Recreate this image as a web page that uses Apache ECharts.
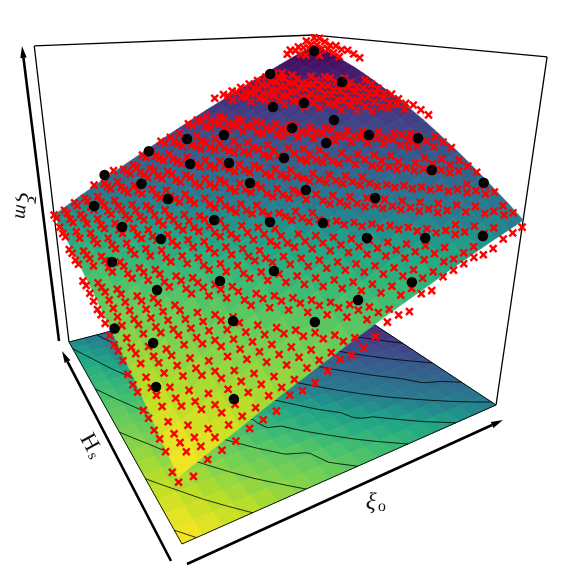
<!DOCTYPE html>
<html><head><meta charset="utf-8">
<script src="https://cdn.jsdelivr.net/npm/echarts@6/dist/echarts.min.js"></script>
<style>html,body{margin:0;background:#fff}#c{width:581px;height:581px}</style></head>
<body><div id="c"></div>
<script>
// fitted surface height (x 1000), rows along Hs (0..1 in 0.05 steps), columns along xi_o
const surfaceZ = [
[184,207,230,252,275,297,318,339,359,380,400,420,439,457,476,495,512,530,547,563,580],
[202,225,249,272,295,317,339,361,382,403,424,444,463,483,502,521,539,557,575,592,609],
[220,244,268,291,315,338,360,382,388,425,446,467,487,506,526,545,564,583,601,618,636],
[237,261,286,310,334,357,380,402,424,447,468,489,522,530,550,570,589,608,627,645,663],
[254,279,304,328,353,376,400,422,445,468,490,511,532,553,574,594,614,633,662,670,689],
[271,296,321,346,371,395,419,458,465,488,511,533,554,575,596,617,637,657,676,695,714],
[287,313,339,364,389,413,437,461,484,507,530,553,574,596,617,638,659,679,699,718,737],
[302,328,354,380,405,430,454,478,502,526,549,572,594,616,638,659,680,700,721,740,760],
[318,344,371,397,423,448,472,496,521,545,568,591,613,636,658,680,701,721,742,762,782],
[333,360,386,412,438,464,489,513,538,562,586,609,632,654,676,698,720,741,762,782,802],
[347,374,401,427,454,479,505,529,554,579,603,626,649,672,695,717,739,760,781,801,822],
[361,388,415,442,469,495,520,545,570,595,619,643,666,689,712,735,757,778,800,820,841],
[375,402,430,456,483,509,535,560,585,610,634,659,682,705,728,751,773,794,816,837,858],
[388,415,443,470,497,523,549,575,600,625,650,674,697,721,744,767,789,811,833,854,875],
[401,429,456,484,511,537,563,589,614,640,664,689,712,736,759,782,805,827,849,870,891],
[414,442,470,497,524,551,577,602,628,653,678,703,726,750,773,797,819,841,863,885,906],
[426,454,482,509,536,563,589,615,640,666,691,715,739,762,786,809,832,854,876,897,919],
[437,465,493,520,548,575,601,626,652,678,703,727,751,775,798,822,845,867,889,910,932],
[449,477,505,532,560,586,613,638,664,690,715,739,763,787,811,834,857,879,901,922,944],
[460,488,516,543,571,597,623,649,675,700,725,750,773,797,821,844,867,889,911,932,954],
[470,498,526,553,580,607,633,659,685,710,735,760,783,807,831,854,877,899,921,942,964]];
const contourLevels = [200,265,330,395,460,525,590,655,720,785,850,915];

// observed values (x 100) read from the red crosses; rows along Hs, columns along xi_o
const crossZ = [
[17,17,20,21,22,24,25,26,29,29,30,32,34,34,35,37,40,41,41,45,45,48,49,50,51,51,52,54,55,56],
[17,21,21,22,24,25,26,28,29,30,32,33,34,36,36,40,41,41,44,45,47,48,50,50,51,52,55,56,59,59],
[20,21,21,22,25,26,28,29,30,32,33,34,36,36,40,41,41,44,45,47,48,50,51,52,55,55,56,59,59,60],
[21,21,22,25,25,28,29,30,32,33,34,36,36,40,41,41,44,45,47,48,50,51,52,55,55,56,59,60,63,63],
[21,22,25,25,26,29,30,32,33,34,36,36,40,41,41,44,45,47,48,50,51,52,55,55,59,59,60,63,63,64],
[22,24,25,26,29,29,32,33,34,35,36,40,41,41,44,45,47,48,50,51,52,55,55,59,59,60,63,63,64,67],
[22,25,26,28,29,30,33,34,35,36,40,41,41,44,45,47,48,50,51,52,55,55,59,59,60,63,63,67,67,68],
[25,25,28,29,30,33,33,35,36,40,41,41,44,45,47,48,50,51,52,55,55,59,59,60,63,63,67,67,68,69],
[25,26,29,30,32,33,34,36,36,40,41,44,45,47,48,50,51,52,55,55,59,59,60,63,63,67,67,68,69,72],
[26,28,29,30,33,34,35,36,40,41,44,45,47,48,50,51,52,55,55,59,59,60,63,63,67,67,68,69,72,73],
[28,29,30,33,33,35,36,40,41,41,44,47,47,50,50,52,55,55,59,59,60,63,63,67,67,68,72,72,73,74],
[29,29,32,33,34,36,40,41,41,44,45,47,48,50,51,55,55,56,59,60,63,63,64,67,68,69,72,73,74,80],
[29,30,33,34,35,36,40,41,44,45,47,48,50,51,52,55,56,59,60,63,63,64,67,68,69,72,73,74,74,81],
[30,32,33,35,36,40,41,41,44,47,48,50,51,52,55,55,59,60,63,63,64,67,68,69,72,73,73,74,81,82],
[32,33,34,36,36,40,41,44,45,47,50,50,52,55,55,59,59,60,63,64,67,67,69,72,73,73,74,81,82,82],
[33,34,35,36,40,41,44,45,47,48,50,51,55,55,56,59,60,63,63,67,67,68,72,73,73,74,80,81,82,83],
[33,35,36,40,41,41,44,47,48,50,51,52,55,56,59,60,63,63,64,67,68,69,72,73,74,80,81,82,83,84],
[34,36,36,40,41,44,45,47,50,50,52,55,55,59,59,60,63,64,67,68,69,72,73,74,80,81,82,83,84,84],
[35,36,40,41,44,45,47,48,50,51,52,55,56,59,60,63,64,67,67,69,72,73,73,74,81,82,82,83,84,85],
[36,36,40,41,44,47,47,50,51,52,55,56,59,60,63,63,64,67,68,72,73,73,74,80,81,82,83,84,85,86],
[36,40,41,44,45,47,48,50,51,55,55,59,59,60,63,64,67,68,69,72,73,74,80,81,82,83,84,85,85,87],
[40,41,41,44,47,48,50,51,52,55,56,59,60,63,63,67,67,68,72,73,73,74,81,82,82,83,84,85,86,94],
[40,41,44,45,47,50,50,52,55,55,59,60,63,63,64,67,68,69,72,73,74,80,81,82,83,84,85,86,87,95],
[41,41,44,47,48,50,51,52,55,56,59,60,63,64,67,67,69,72,73,74,80,81,82,83,84,85,85,87,94,96],
[41,44,45,47,50,51,52,55,56,59,60,63,63,67,67,68,72,73,73,74,81,82,82,83,84,85,86,87,95,96],
[44,45,47,48,50,51,55,55,59,59,60,63,64,67,68,69,72,73,74,80,81,82,83,84,85,85,87,94,96,97],
[44,47,48,50,51,52,55,56,59,60,63,63,67,67,68,72,73,73,74,81,82,82,83,84,85,86,94,95,96,97],
[45,47,48,50,51,55,55,59,59,60,63,64,67,68,69,72,73,74,80,81,82,83,84,85,86,87,94,96,97,98],
[47,48,50,51,52,55,56,59,60,63,63,67,67,68,72,73,73,74,81,82,82,83,84,85,86,94,95,96,97,99],
[47,48,50,51,55,55,59,59,60,63,64,67,68,69,72,73,74,80,81,82,83,84,85,86,87,87,95,96,98,99]];

// black design points
const dotXi = [.992,.81,.947,.756,.832,.87,.769,.596,.471,.33,.713,.573,.472,.99,.17,.29,.583,.99,.687,.328,.122,.807,.386,.506,.616,.153,.661,.771,.879,.222,.072,.404,.278,.638,.133,.509,.245,.396,0,.063,.028,.159,.925,.99,.827];
const dotHs = [.987,.998,.747,.886,.806,.68,.78,.953,.989,.99,.74,.872,.973,.335,.98,.97,.741,.135,.565,.83,.962,.373,.607,.48,.368,.773,.225,.119,.023,.627,.626,.286,.352,.018,.436,.062,.215,.081,.395,.29,.187,.048,.562,.405,.66];
const dotZ = [.944,.87,.86,.771,.79,.748,.714,.677,.67,.643,.625,.597,.584,.64,.585,.54,.557,.65,.563,.518,.491,.57,.504,.515,.527,.472,.52,.534,.551,.468,.428,.457,.431,.478,.405,.443,.386,.405,.347,.34,.287,.292,.713,.725,.679];

const viridis = ['#440154','#482475','#414487','#355f8d','#2a788e','#21908c','#22a884','#44bf70','#7ad151','#bddf26','#fde725'];
const colorIn = [0,.04,.117,.19,.27,.35,.44,.51,.75,1];
const colorOut = [0,.03,.11,.18,.25,.33,.43,.57,.80,1];

function project(x, y, z) {
  const w = 1 + 0.336 * x + 0.58 * y - 0.24 * z;
  return [(182 + 480.7 * x - 73 * y - 63.1 * z) / w, (544 - 2.9 * x - 3.6 * y - 478.8 * z) / w];
}
function hex(c){return [1,3,5].map(i=>parseInt(c.substr(i,2),16));}
function colorOf(v, u, w) {
  const n = Math.min(1, Math.max(0, (v - 184) / 780 + 0.11 * (1 - u) * w * w));
  let s = 0; while (s < colorIn.length - 2 && n > colorIn[s + 1]) s++;
  const c = colorOut[s] + (colorOut[s + 1] - colorOut[s]) * (n - colorIn[s]) / (colorIn[s + 1] - colorIn[s]);
  const t = (1 - c) * (viridis.length - 1), i = Math.min(viridis.length - 2, Math.floor(t)), f = t - i;
  const a = hex(viridis[i]), b = hex(viridis[i + 1]);
  return 'rgb(' + a.map((q, k) => Math.round(q + (b[k] - q) * f)).join(',') + ')';
}
const N = surfaceZ.length - 1;
const cells = [];
for (let j = N - 1; j >= 0; j--) for (let i = 0; i < N; i++) cells.push([i, j]);
const cellPoly = (i, j, h) => [[i, j], [i + 1, j], [i + 1, j + 1], [i, j + 1]]
  .map(p => project(p[0] / N, p[1] / N, h ? surfaceZ[p[1]][p[0]] / 1000 : 0));
function cellSeries(h, zl) {
  return {type: 'custom', coordinateSystem: 'cartesian2d', silent: true, z: zl, clip: false, animation: false,
    data: cells, encode: {x: 0, y: 1},
    renderItem(p, api) {
      const i = api.value(0), j = api.value(1);
      const v = (surfaceZ[j][i] + surfaceZ[j][i + 1] + surfaceZ[j + 1][i] + surfaceZ[j + 1][i + 1]) / 4, col = colorOf(v, (i + .5) / N, (j + .5) / N);
      return {type: 'polygon', shape: {points: cellPoly(i, j, h).map(q => api.coord(q))},
        style: {fill: col, stroke: col, lineWidth: 0.7}};
    }};
}
// contour segments from the table, in floor coordinates
const segs = [];
contourLevels.forEach(L => {
  for (let j = 0; j < N; j++) for (let i = 0; i < N; i++) {
    const c = [[i, j], [i + 1, j], [i + 1, j + 1], [i, j + 1]], pts = [];
    for (let k = 0; k < 4; k++) {
      const a = c[k], b = c[(k + 1) % 4], va = surfaceZ[a[1]][a[0]], vb = surfaceZ[b[1]][b[0]];
      if ((va < L) !== (vb < L)) { const t = (L - va) / (vb - va);
        pts.push((a[0] + (b[0] - a[0]) * t) / N, (a[1] + (b[1] - a[1]) * t) / N); }
    }
    if (pts.length >= 4) segs.push(pts.slice(0, 4));
  }
});
const lineSeries = (data, width, zl) => ({type: 'custom', coordinateSystem: 'cartesian2d', silent: true, z: zl, clip: false, animation: false,
  data, encode: {x: 0, y: 1},
  renderItem(p, api) {
    const a = project(api.value(0), api.value(1), api.value(2)), b = project(api.value(3), api.value(4), api.value(5));
    const s = api.coord(a), e = api.coord(b);
    return {type: 'line', shape: {x1: s[0], y1: s[1], x2: e[0], y2: e[1]}, style: {stroke: '#000', lineWidth: width}};
  }});
const contourData = segs.map(s => [s[0], s[1], 0, s[2], s[3], 0]);
const floorEdges = [[0,0,0,1,0,0],[1,0,0,1,1,0],[1,1,0,0,1,0],[0,1,0,0,0,0]];
const boxEdges = [[0,1,0,0,1,1],[0,1,1,1,1,1],[1,1,1,1,0,1],[1,0,1,1,0,0]];

const crossPts = [];
crossZ.forEach((row, j) => row.forEach((v, i) => crossPts.push(project(i / 29, j / 29, v / 100))));
const dotPts = dotXi.map((x, k) => project(x, dotHs[k], dotZ[k]));

function arrow(x1, y1, x2, y2) {
  const d = Math.hypot(x2 - x1, y2 - y1), ux = (x2 - x1) / d, uy = (y2 - y1) / d, L = 12, W = 3.2;
  const bx = x2 - ux * L, by = y2 - uy * L;
  return [
    {type: 'line', shape: {x1, y1, x2: bx, y2: by}, style: {stroke: '#000', lineWidth: 2.6}, z: 50},
    {type: 'polygon', shape: {points: [[x2, y2], [bx - uy * W, by + ux * W], [bx + uy * W, by - ux * W]]}, style: {fill: '#000'}, z: 50}
  ];
}
function label(x, y, rot, main, sub, fs, sfs, italicMain) {
  return {type: 'text', x, y, rotation: rot, z: 50, style: {
    text: '{a|' + main + '}{b|' + sub + '}', align: 'center', verticalAlign: 'middle',
    rich: {a: {fontFamily: 'Liberation Serif', fontStyle: italicMain ? 'italic' : 'normal', fontSize: fs, fill: '#111'},
           b: {fontFamily: 'Liberation Serif', fontStyle: sub === 'm' ? 'italic' : 'normal', fontSize: sfs, fill: '#111', padding: [7, 0, 0, 2]}}}};
}

const chart = echarts.init(document.getElementById('c'), null, {renderer: 'canvas'});
chart.setOption({
  animation: false, backgroundColor: '#fff',
  grid: {left: 0, top: 0, right: 0, bottom: 0},
  xAxis: {type: 'value', min: 0, max: 581, show: false},
  yAxis: {type: 'value', min: 0, max: 581, inverse: true, show: false},
  series: [
    lineSeries(boxEdges, 1.3, 1),
    cellSeries(false, 2),
    lineSeries(contourData, 0.8, 3),
    lineSeries(floorEdges, 0.9, 4),
    cellSeries(true, 5),
    {type: 'scatter', silent: true, z: 6, data: crossPts, symbol: 'path://M2 0L5 3L8 0L10 2L7 5L10 8L8 10L5 7L2 10L0 8L3 5L0 2Z', symbolSize: 8.6, itemStyle: {color: '#ff0000', opacity: 1}},
    {type: 'scatter', silent: true, z: 7, data: dotPts, symbol: 'circle', symbolSize: 10.5, itemStyle: {color: '#000', opacity: 1}}
  ],
  graphic: [].concat(
    arrow(59, 341, 22, 46), arrow(171, 561, 62, 351), arrow(187, 564, 503, 420),
    [label(25, 206, -Math.PI * 0.53, 'ξ', 'm', 24, 20, true), label(91, 446, -Math.PI * 0.34, 'H', 's', 23, 15, false), label(376, 503, -0.05, 'ξ', 'o', 24, 16, true)]
  )
});
</script></body></html>
